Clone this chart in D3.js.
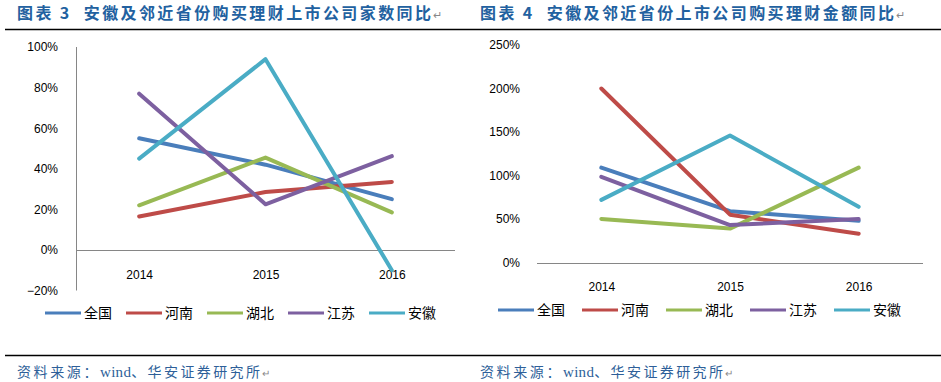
<!DOCTYPE html>
<html><head><meta charset="utf-8">
<script src="https://cdn.jsdelivr.net/npm/d3@7"></script>
<style>body{margin:0;background:#fff}svg{display:block}</style>
</head><body>
<svg id="c" width="941" height="382"></svg>
<script>
const years = ["2014", "2015", "2016"];
const seriesNames = ["全国", "河南", "湖北", "江苏", "安徽"];
const seriesColors = ["#4a7ebb", "#be4b48", "#98b954", "#7d60a0", "#4aacc5"];
// Chart 3: number of companies YoY
const countQuanguo = [0.55, 0.42, 0.25];
const countHenan   = [0.165, 0.285, 0.335];
const countHubei   = [0.22, 0.455, 0.185];
const countJiangsu = [0.77, 0.225, 0.462];
const countAnhui   = [0.45, 0.94, -0.10];
const countTicks = [-0.2, 0, 0.2, 0.4, 0.6, 0.8, 1.0];
// Chart 4: amount YoY
const amtQuanguo = [1.09, 0.59, 0.48];
const amtHenan   = [2.0, 0.55, 0.33];
const amtHubei   = [0.50, 0.39, 1.09];
const amtJiangsu = [0.985, 0.43, 0.50];
const amtAnhui   = [0.72, 1.46, 0.64];
const amtTicks = [0, 0.5, 1.0, 1.5, 2.0, 2.5];

const titles = ["图表 3  安徽及邻近省份购买理财上市公司家数同比", "图表 4  安徽及邻近省份上市公司购买理财金额同比"];
const sourceParts = ["资料来源：", "wind", "、华安证券研究所"];

const svg = d3.select("#c");
const cjk = "'Noto Sans CJK SC', 'Noto Sans', sans-serif";
const num = "'Liberation Sans', Arial, sans-serif";

// header / footer rules
svg.append("line").attr("x1",5).attr("x2",941).attr("y1",29.5).attr("y2",29.5).attr("stroke","#000").attr("stroke-width",1.5);
svg.append("line").attr("x1",5).attr("x2",941).attr("y1",355.5).attr("y2",355.5).attr("stroke","#000").attr("stroke-width",1.5);

[17, 480].forEach((x, i) => {
  const t = svg.append("text").attr("x", x).attr("y", 19)
    .attr("font-family", cjk).attr("font-weight", "bold").attr("font-size", 16)
    .attr("letter-spacing", 2.4).attr("fill", "#2261a0").style("white-space","pre");
  t.append("tspan").text(titles[i]);
  t.append("tspan").text("↵").attr("fill", "#888").attr("font-weight", "normal").attr("font-size", 11).attr("letter-spacing", 0);
  const s = svg.append("text").attr("x", x).attr("y", 377)
    .attr("font-family", cjk).attr("font-size", 14).attr("fill", "#2e5f99");
  s.append("tspan").text(sourceParts[0]).attr("letter-spacing", 2.6);
  s.append("tspan").text(sourceParts[1]).attr("letter-spacing", 0.3).attr("font-family", "'Liberation Serif', serif").attr("font-size", 15);
  s.append("tspan").text(sourceParts[2]).attr("letter-spacing", 2.4);
  s.append("tspan").text("↵").attr("fill", "#888").attr("font-size", 10).attr("letter-spacing", 0);
});

function drawChart(cfg) {
  const g = svg.append("g");
  const x = d3.scalePoint().domain(years).range(cfg.xr).padding(0.5);
  const y = d3.scaleLinear().domain(cfg.yd).range(cfg.yr);
  // y tick labels
  const yAxis = d3.axisLeft(y).tickValues(cfg.ticks).tickSize(0).tickPadding(0)
    .tickFormat(d3.format(".0%"));
  const ya = g.append("g").attr("transform", `translate(${cfg.labelX},0)`).call(yAxis);
  ya.select(".domain").remove();
  ya.selectAll("text").attr("font-family", num).attr("font-size", 12).attr("fill", "#000");
  if (cfg.vaxis) {
    g.append("line").attr("x1", cfg.xr[0]+0.5).attr("x2", cfg.xr[0]+0.5)
      .attr("y1", y(cfg.yd[1])).attr("y2", y(cfg.yd[0])).attr("stroke", "#868686");
  }
  g.append("line").attr("x1", cfg.xr[0]).attr("x2", cfg.xr[1])
    .attr("y1", Math.round(y(0))+0.5).attr("y2", Math.round(y(0))+0.5).attr("stroke", "#868686");
  // x labels
  const xAxis = d3.axisBottom(x).tickSize(0).tickPadding(0);
  const xa = g.append("g").attr("transform", `translate(0,${cfg.xLabelY})`).call(xAxis);
  xa.select(".domain").remove();
  xa.selectAll("text").attr("font-family", num).attr("font-size", 12).attr("fill", "#000").attr("dy","0.35em");
  const line = d3.line().x((d, i) => x(years[i])).y(d => y(d));
  cfg.series.forEach((s, k) => {
    g.append("path").attr("d", line(s)).attr("fill", "none")
      .attr("stroke", seriesColors[k]).attr("stroke-width", 4).attr("stroke-linejoin", "round").attr("stroke-linecap","round");
  });
  // legend
  seriesNames.forEach((n, k) => {
    const lx = cfg.legX + k * cfg.legStep;
    g.append("line").attr("x1", lx).attr("x2", lx + 36).attr("y1", cfg.legY).attr("y2", cfg.legY)
      .attr("stroke", seriesColors[k]).attr("stroke-width", 3);
    g.append("text").attr("x", lx + 39).attr("y", cfg.legY).attr("dy", "0.36em").text(n)
      .attr("font-family", cjk).attr("font-size", 14).attr("fill", "#000");
  });
}

drawChart({
  xr: [76, 455], yd: [-0.2, 1.0], yr: [290.5, 47], ticks: countTicks, labelX: 58, vaxis: true,
  xLabelY: 275,
  series: [countQuanguo, countHenan, countHubei, countJiangsu, countAnhui],
  legX: 45, legStep: 81, legY: 313
});
drawChart({
  xr: [537, 923], yd: [0, 2.5], yr: [262.5, 45], ticks: amtTicks, labelX: 520, vaxis: false,
  xLabelY: 287,
  series: [amtQuanguo, amtHenan, amtHubei, amtJiangsu, amtAnhui],
  legX: 498, legStep: 84, legY: 310
});
</script>
</body></html>
